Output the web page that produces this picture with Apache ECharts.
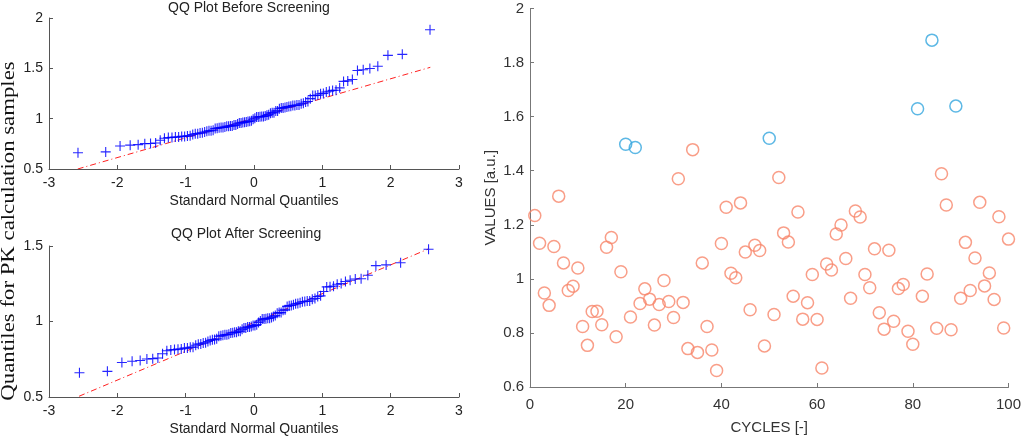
<!DOCTYPE html>
<html>
<head>
<meta charset="utf-8">
<script src="https://cdn.jsdelivr.net/npm/echarts@6/dist/echarts.min.js"></script>
<style>
html,body{margin:0;padding:0;background:#fff;}
#chart{width:1024px;height:440px;}
</style>
</head>
<body>
<div id="chart"></div>
<script>
// Measured values per cycle (cycle = index + 1)
const cycleValues = [
  1.234, 1.132, 0.948, 0.902, 1.120, 1.306, 1.059, 0.957, 0.973, 1.040,
  0.824, 0.754, 0.879, 0.880, 0.830, 1.117, 1.153, 0.786, 1.026, 1.498,
  0.859, 1.486, 0.909, 0.963, 0.925, 0.829, 0.905, 0.994, 0.916, 0.857,
  1.370, 0.913, 0.742, 1.478, 0.728, 1.059, 0.824, 0.737, 0.661, 1.131,
  1.265, 1.021, 1.004, 1.281, 1.099, 0.886, 1.124, 1.105, 0.752, 1.520,
  0.868, 1.375, 1.170, 1.136, 0.936, 1.247, 0.851, 0.912, 1.016, 0.850,
  0.670, 1.055, 1.033, 1.166, 1.199, 1.075, 0.928, 1.251, 1.229, 1.016,
  0.967, 1.111, 0.875, 0.814, 1.106, 0.843, 0.964, 0.979, 0.806, 0.758,
  1.629, 0.936, 1.018, 1.883, 0.817, 1.389, 1.273, 0.812, 1.639, 0.928,
  1.135, 0.957, 1.077, 1.283, 0.974, 1.022, 0.924, 1.230, 0.818, 1.147
];
// Cycles flagged as outliers (blue)
const outlierCycles = [20, 22, 50, 81, 84, 89];
// Reference (dash-dot) lines of the QQ plots
const refLineBefore = [[-2.58, 0.50], [2.58, 1.51]];
const refLineAfter = [[-2.56, 0.505], [2.55, 1.48]];
// Tick settings
const qqXTicks = {min: -3, max: 3, interval: 1};
const qqBeforeYTicks = {min: 0.5, max: 2, interval: 0.5};
const qqAfterYTicks = {min: 0.5, max: 1.5, interval: 0.5};
const cycleTicks = {min: 0, max: 100, interval: 20};
const valueTicks = {min: 0.6, max: 2, interval: 0.2};

// inverse standard normal CDF (Acklam) for theoretical quantiles
function norminv(p) {
  const a = [-3.969683028665376e+01, 2.209460984245205e+02, -2.759285104469687e+02, 1.383577518672690e+02, -3.066479806614716e+01, 2.506628277459239e+00];
  const b = [-5.447609879822406e+01, 1.615858368580409e+02, -1.556989798598866e+02, 6.680131188771972e+01, -1.328068155288572e+01];
  const c = [-7.784894002430293e-03, -3.223964580411365e-01, -2.400758277161838e+00, -2.549732539343734e+00, 4.374664141464968e+00, 2.938163982698783e+00];
  const d = [7.784695709041462e-03, 3.224671290700398e-01, 2.445134137142996e+00, 3.754408661907416e+00];
  const pl = 0.02425, ph = 1 - pl;
  let q, r;
  if (p < pl) {
    q = Math.sqrt(-2 * Math.log(p));
    return (((((c[0]*q+c[1])*q+c[2])*q+c[3])*q+c[4])*q+c[5]) / ((((d[0]*q+d[1])*q+d[2])*q+d[3])*q+1);
  } else if (p <= ph) {
    q = p - 0.5; r = q * q;
    return (((((a[0]*r+a[1])*r+a[2])*r+a[3])*r+a[4])*r+a[5])*q / (((((b[0]*r+b[1])*r+b[2])*r+b[3])*r+b[4])*r+1);
  } else {
    q = Math.sqrt(-2 * Math.log(1 - p));
    return -(((((c[0]*q+c[1])*q+c[2])*q+c[3])*q+c[4])*q+c[5]) / ((((d[0]*q+d[1])*q+d[2])*q+d[3])*q+1);
  }
}
function qq(vals) {
  const s = vals.slice().sort((x, y) => x - y);
  const n = s.length;
  return s.map((v, i) => [norminv((i + 0.5) / n), v]);
}

const normalPts = [], outlierPts = [];
cycleValues.forEach((v, i) => {
  const c = i + 1;
  if (outlierCycles.includes(c)) outlierPts.push([c, v]); else normalPts.push([c, v]);
});
const qqBefore = qq(cycleValues);
const qqAfter = qq(cycleValues.filter((v, i) => !outlierCycles.includes(i + 1)));

const SANS = 'Liberation Sans';
const plusPath = 'path://M4.45,0H5.55V4.45H10V5.55H5.55V10H4.45V5.55H0V4.45H4.45Z';

function qqX(gi) {
  return {
    gridIndex: gi, type: 'value', min: qqXTicks.min, max: qqXTicks.max, interval: qqXTicks.interval,
    axisLine: {show: true, onZero: false, lineStyle: {color: '#555', width: 1}},
    axisTick: {show: true, inside: true, length: 4, lineStyle: {color: '#555'}},
    splitLine: {show: false},
    axisLabel: {fontSize: 14, color: '#222', margin: 7, fontFamily: SANS},
    name: 'Standard Normal Quantiles', nameLocation: 'middle', nameGap: 25,
    nameTextStyle: {fontSize: 14, color: '#222', fontFamily: SANS}
  };
}
function qqY(gi, t) {
  return {
    gridIndex: gi, type: 'value', min: t.min, max: t.max, interval: t.interval,
    axisLine: {show: true, onZero: false, lineStyle: {color: '#555', width: 1}},
    axisTick: {show: true, inside: true, length: 4, lineStyle: {color: '#555'}},
    splitLine: {show: false},
    axisLabel: {fontSize: 14, color: '#222', margin: 6, fontFamily: SANS,
      formatter: v => String(Math.round(v * 10) / 10)}
  };
}

const chart = echarts.init(document.getElementById('chart'));
chart.setOption({
  animation: false,
  backgroundColor: '#fff',
  grid: [
    {left: 49, top: 18, width: 410, height: 151},
    {left: 49, top: 246, width: 410, height: 151},
    {left: 530, top: 8.5, width: 480, height: 381.5}
  ],
  xAxis: [
    qqX(0), qqX(1),
    {
      gridIndex: 2, type: 'value', min: cycleTicks.min, max: cycleTicks.max, interval: cycleTicks.interval,
      axisLine: {show: true, onZero: false, lineStyle: {color: '#777'}},
      axisTick: {show: true, inside: true, length: 4, lineStyle: {color: '#777'}},
      splitLine: {show: false},
      axisLabel: {fontSize: 15, color: '#333', margin: 10, fontFamily: SANS},
      name: 'CYCLES [-]', nameLocation: 'middle', nameGap: 33,
      nameTextStyle: {fontSize: 15, color: '#333', fontFamily: SANS}
    }
  ],
  yAxis: [
    qqY(0, qqBeforeYTicks), qqY(1, qqAfterYTicks),
    {
      gridIndex: 2, type: 'value', min: valueTicks.min, max: valueTicks.max, interval: valueTicks.interval,
      axisLine: {show: true, onZero: false, lineStyle: {color: '#777'}},
      axisTick: {show: true, inside: true, length: 4, lineStyle: {color: '#777'}},
      splitLine: {show: false},
      axisLabel: {fontSize: 15, color: '#333', margin: 6, fontFamily: SANS,
        formatter: v => String(Math.round(v * 10) / 10)},
      name: 'VALUES [a.u.]', nameLocation: 'middle', nameGap: 32,
      nameTextStyle: {fontSize: 15, color: '#333', fontFamily: SANS}
    }
  ],
  graphic: [
    {type: 'text', left: 252 - 84, top: 1, style: {text: 'QQ Plot Before Screening', fontSize: 14, fill: '#222', fontFamily: SANS}},
    {type: 'text', left: 252 - 81, top: 227, style: {text: 'QQ Plot After Screening', fontSize: 14, fill: '#222', fontFamily: SANS}},
    {type: 'text', x: 9, y: 231, rotation: Math.PI / 2, scaleX: 1.2, scaleY: 1,
      style: {text: 'Quantiles for PK calculation samples', fontSize: 19, fill: '#111',
        fontFamily: 'Liberation Serif', align: 'center', verticalAlign: 'middle'}}
  ],
  series: [
    {type: 'line', xAxisIndex: 0, yAxisIndex: 0, data: refLineBefore, symbol: 'none', silent: true,
      lineStyle: {color: '#ff2020', width: 1, type: [6, 3, 1, 3]}, z: 1},
    {type: 'scatter', xAxisIndex: 0, yAxisIndex: 0, data: qqBefore, symbol: plusPath, symbolSize: 10,
      itemStyle: {color: '#0000ff', opacity: 0.85}, z: 2},
    {type: 'line', xAxisIndex: 1, yAxisIndex: 1, data: refLineAfter, symbol: 'none', silent: true,
      lineStyle: {color: '#ff2020', width: 1, type: [6, 3, 1, 3]}, z: 1},
    {type: 'scatter', xAxisIndex: 1, yAxisIndex: 1, data: qqAfter, symbol: plusPath, symbolSize: 10,
      itemStyle: {color: '#0000ff', opacity: 0.85}, z: 2},
    {type: 'scatter', xAxisIndex: 2, yAxisIndex: 2, data: normalPts, symbol: 'circle', symbolSize: 12,
      itemStyle: {color: 'rgba(0,0,0,0)', borderColor: '#f7866a', borderWidth: 1.5}},
    {type: 'scatter', xAxisIndex: 2, yAxisIndex: 2, data: outlierPts, symbol: 'circle', symbolSize: 12,
      itemStyle: {color: 'rgba(0,0,0,0)', borderColor: '#35a6de', borderWidth: 1.5}}
  ]
});
</script>
</body>
</html>
